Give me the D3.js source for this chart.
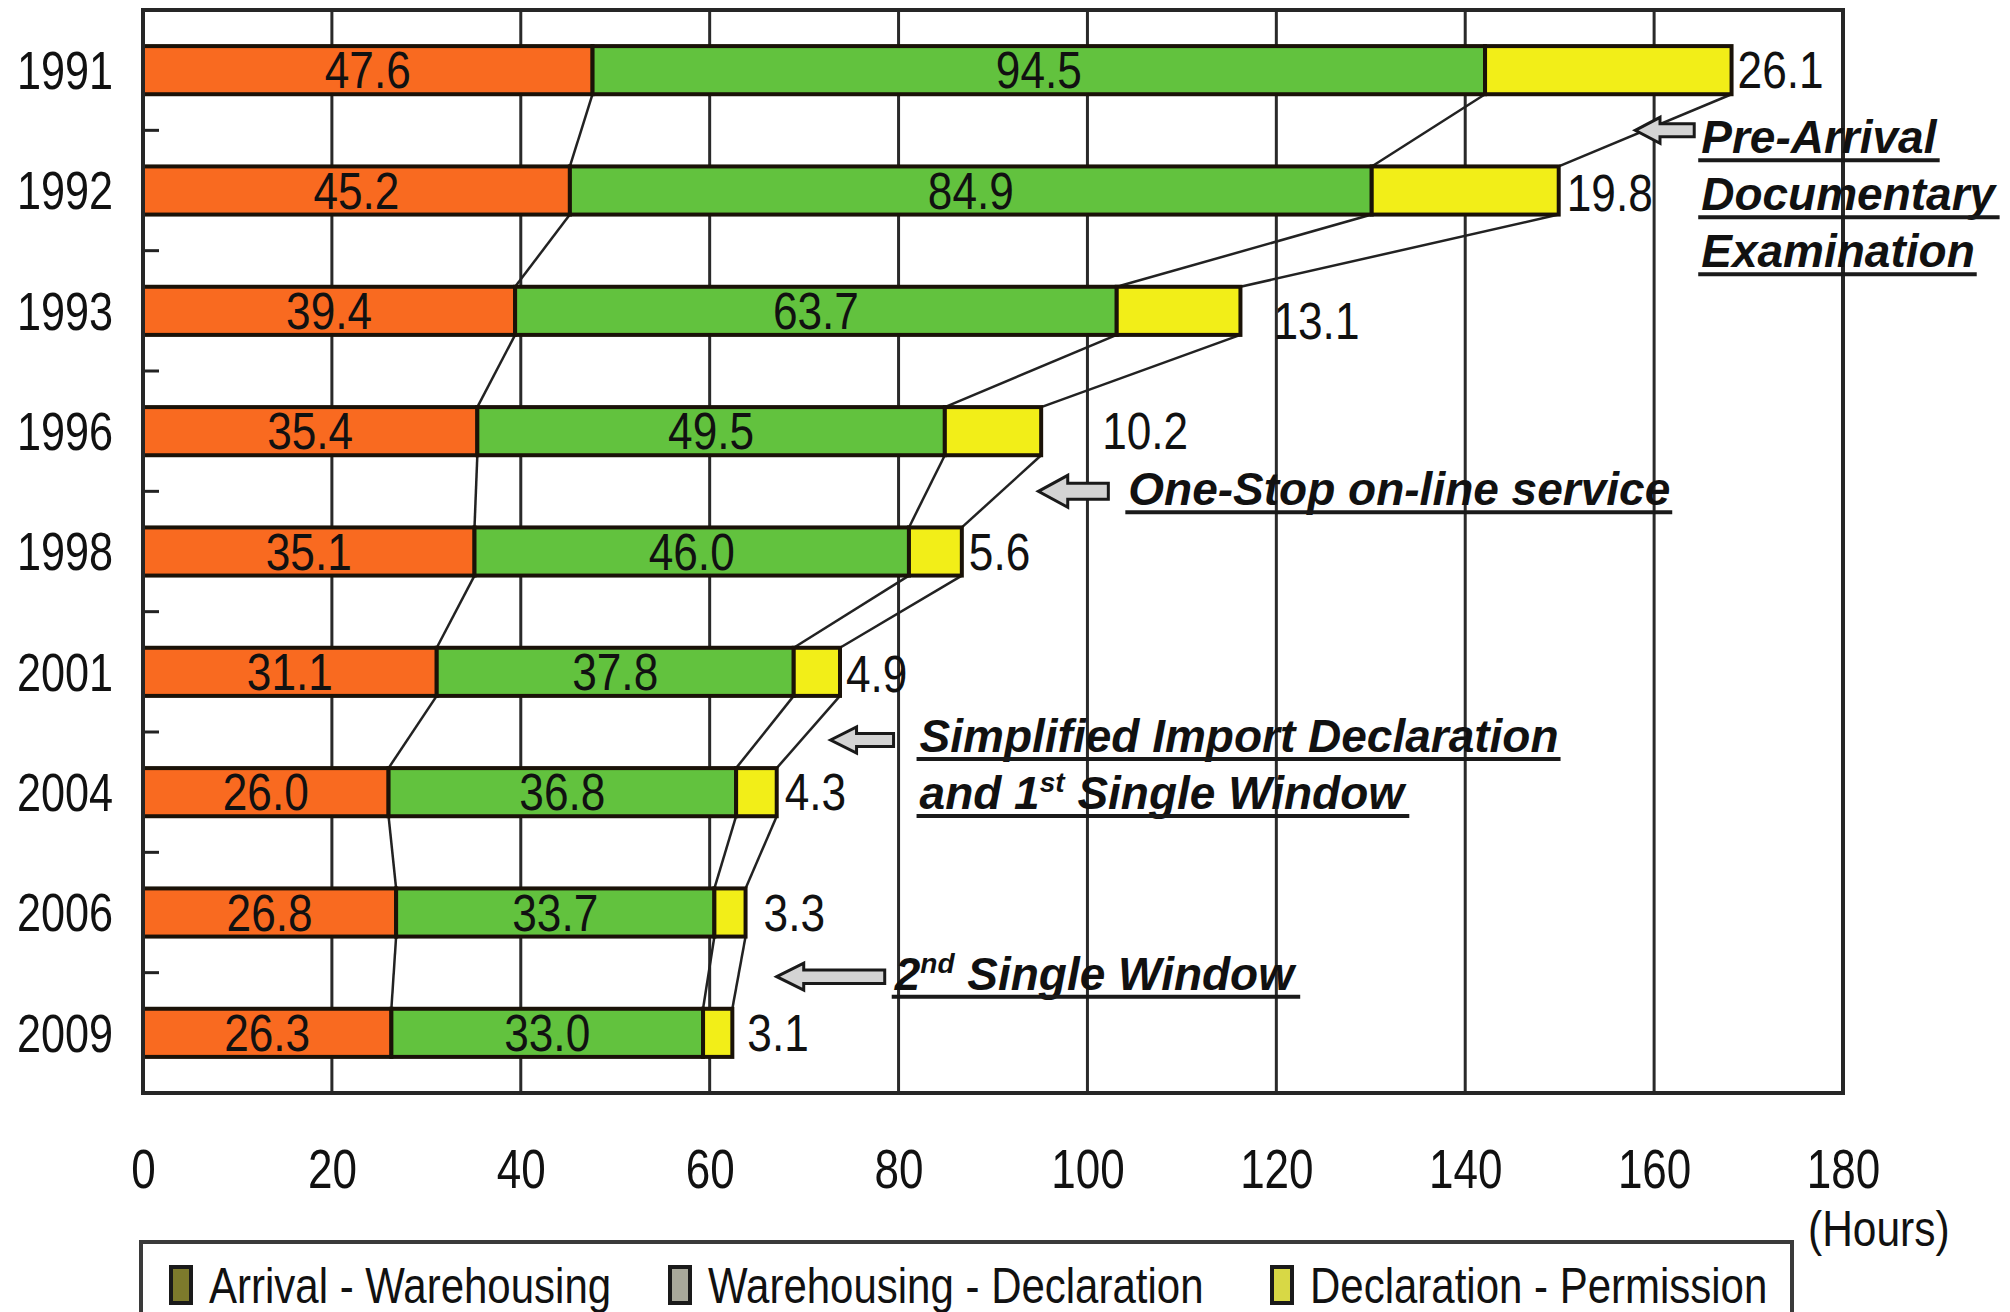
<!DOCTYPE html>
<html>
<head>
<meta charset="utf-8">
<script src="https://cdn.jsdelivr.net/npm/d3@7"></script>
<style>
  body { margin: 0; background: #fff; }
  text { font-family: "Liberation Sans", Arial, sans-serif; fill: #111; }
  .note { font-weight: bold; font-style: italic; }
</style>
</head>
<body>
<svg id="chart" width="2010" height="1312"></svg>
<script>
// data
var years = ["1991", "1992", "1993", "1996", "1998", "2001", "2004", "2006", "2009"];
var arrivalWarehousing = [47.6, 45.2, 39.4, 35.4, 35.1, 31.1, 26.0, 26.8, 26.3];
var warehousingDeclaration = [94.5, 84.9, 63.7, 49.5, 46.0, 37.8, 36.8, 33.7, 33.0];
var declarationPermission = [26.1, 19.8, 13.1, 10.2, 5.6, 4.9, 4.3, 3.3, 3.1];
var seriesNames = ["Arrival - Warehousing", "Warehousing - Declaration", "Declaration - Permission"];
var xTicks = [0, 20, 40, 60, 80, 100, 120, 140, 160, 180];

// layout
var plotL = 143, plotR = 1843, plotT = 10, plotB = 1093;
var colors = ["#f96a20", "#62c23e", "#f2ee18"];
var legendColors = ["#7d7a2c", "#a8a89a", "#d8d845"];
// nudge of the last-segment labels (px right of bar end, px down)
var endLabelDx = [6, 8, 33, 61, 7, 6, 8, 18, 15];
var endLabelDy = [0, 2, 10, 0, 0, 2, 0, 0, 0];

var keys = ["a", "b", "c"];
var table = years.map(function(yr, i) {
    return { year: yr, a: arrivalWarehousing[i], b: warehousingDeclaration[i], c: declarationPermission[i] };
});
var stacked = d3.stack().keys(keys)(table);

var svg = d3.select("#chart");
svg.append("rect").attr("width", 2010).attr("height", 1312).attr("fill", "#fff");

var x = d3.scaleLinear().domain([0, 180]).range([plotL, plotR]);
var y = d3.scaleBand().domain(years).range([plotT, plotB]).paddingInner(0.6).paddingOuter(0.3);

function stext(g, tx, ty, str, size, sx, anchor) {
    return g.append("text")
        .attr("transform", "translate(" + tx + "," + ty + ") scale(" + sx + ",1)")
        .attr("text-anchor", anchor)
        .attr("dy", "0.35em")
        .style("font-size", size + "px")
        .text(str);
}

// grid lines
svg.append("g").selectAll("line")
    .data(xTicks.slice(1, -1))
    .enter().append("line")
    .attr("x1", function(d) { return x(d); })
    .attr("x2", function(d) { return x(d); })
    .attr("y1", plotT).attr("y2", plotB)
    .attr("stroke", "#2a2a2a").attr("stroke-width", 3);

// category ticks on the left axis
var step = y.step();
svg.append("g").selectAll("line")
    .data(d3.range(1, years.length))
    .enter().append("line")
    .attr("x1", plotL).attr("x2", plotL + 16)
    .attr("y1", function(k) { return plotT + k * step; })
    .attr("y2", function(k) { return plotT + k * step; })
    .attr("stroke", "#222").attr("stroke-width", 3);

// series lines between bars
var ends = years.map(function(yr, i) {
    return [stacked[0][i][1], stacked[1][i][1], stacked[2][i][1]];
});
var conn = svg.append("g");
for (var i = 0; i < years.length - 1; i++) {
    for (var k = 0; k < 3; k++) {
        conn.append("line")
            .attr("x1", x(ends[i][k])).attr("y1", y(years[i]) + y.bandwidth())
            .attr("x2", x(ends[i + 1][k])).attr("y2", y(years[i + 1]))
            .attr("stroke", "#222").attr("stroke-width", 2.5);
    }
}

// bars
var layer = svg.append("g").selectAll("g")
    .data(stacked)
    .enter().append("g")
    .attr("fill", function(d, i) { return colors[i]; });

layer.selectAll("rect")
    .data(function(d) { return d; })
    .enter().append("rect")
    .attr("x", function(d) { return x(d[0]); })
    .attr("y", function(d) { return y(d.data.year); })
    .attr("width", function(d) { return x(d[1]) - x(d[0]); })
    .attr("height", y.bandwidth())
    .attr("stroke", "#1a1208").attr("stroke-width", 4);

// value labels
var labels = svg.append("g");
stacked.forEach(function(s, si) {
    s.forEach(function(d, i) {
        var cy = y(d.data.year) + y.bandwidth() / 2;
        var v = d[1] - d[0];
        if (si < 2) {
            stext(labels, (x(d[0]) + x(d[1])) / 2, cy, v.toFixed(1), 52, 0.85, "middle");
        } else {
            stext(labels, x(d[1]) + endLabelDx[i], cy + endLabelDy[i], v.toFixed(1), 52, 0.85, "start");
        }
    });
});

// plot frame
svg.append("rect")
    .attr("x", plotL).attr("y", plotT)
    .attr("width", plotR - plotL).attr("height", plotB - plotT)
    .attr("fill", "none").attr("stroke", "#262626").attr("stroke-width", 4);

// year labels
var yAxis = svg.append("g").attr("transform", "translate(" + plotL + ",0)")
    .call(d3.axisLeft(y).tickSize(0).tickPadding(0));
yAxis.select(".domain").remove();
yAxis.selectAll("text")
    .attr("x", null).attr("dy", "0.35em")
    .attr("fill", "#111")
    .attr("text-anchor", "end")
    .attr("transform", "translate(-30,0) scale(0.8,1)")
    .style("font-size", "54px");
yAxis.attr("font-family", null);

// hour labels
var xAxis = svg.append("g").attr("transform", "translate(0," + plotB + ")")
    .call(d3.axisBottom(x).tickValues(xTicks).tickSize(0).tickPadding(0));
xAxis.select(".domain").remove();
xAxis.selectAll("text")
    .attr("y", null).attr("dy", "0.35em")
    .attr("fill", "#111")
    .attr("transform", "translate(0,76) scale(0.8,1)")
    .style("font-size", "55px");
xAxis.attr("font-family", null);
stext(svg, 1808, 1228, "(Hours)", 50, 0.85, "start");

// annotations with block arrows
var notes = [
    { lines: [["Pre-Arrival"], ["Documentary"], ["Examination"]], tip: 158.0, after: 0, dy: 0, w: 59, h: 26, gap: 7, base: 23 },
    { lines: [["One-Stop on-line service"]], tip: 94.8, after: 3, dy: 0, w: 70, h: 32, gap: 20, base: 14 },
    { lines: [["Simplified Import Declaration"], ["and 1", "st", " Single Window"]], tip: 72.8, after: 5, dy: 8, w: 63, h: 26, gap: 26, base: 12 },
    { lines: [["2", "nd", " Single Window"]], tip: 67.1, after: 7, dy: 4, w: 108, h: 27, gap: 10, base: 13 }
];
var ng = svg.append("g");
notes.forEach(function(n) {
    var cy = (y(years[n.after]) + y(years[n.after + 1]) + y.bandwidth()) / 2 + n.dy;
    var x0 = x(n.tip), w = n.w, h = n.h, hl = Math.min(0.42 * w, h);
    var p = d3.path();
    p.moveTo(x0, cy);
    p.lineTo(x0 + hl, cy - h / 2);
    p.lineTo(x0 + hl, cy - h / 4);
    p.lineTo(x0 + w, cy - h / 4);
    p.lineTo(x0 + w, cy + h / 4);
    p.lineTo(x0 + hl, cy + h / 4);
    p.lineTo(x0 + hl, cy + h / 2);
    p.closePath();
    ng.append("path").attr("d", p.toString())
        .attr("fill", "#d4d4d4").attr("stroke", "#1a1a1a").attr("stroke-width", 3);
    var tx = x0 + w + n.gap;
    n.lines.forEach(function(parts, li) {
        var by = cy + n.base + li * 57;
        var t = ng.append("text").attr("class", "note")
            .attr("x", tx).attr("y", by)
            .style("font-size", "46px");
        if (parts.length === 1) {
            t.text(parts[0]);
        } else {
            t.append("tspan").text(parts[0]);
            t.append("tspan").attr("dy", -17).style("font-size", "28px").text(parts[1]);
            t.append("tspan").attr("dy", 17).text(parts[2]);
        }
        var bb = t.node().getBBox();
        ng.append("line")
            .attr("x1", tx - 3).attr("x2", tx + bb.width + 2)
            .attr("y1", by + 7).attr("y2", by + 7)
            .attr("stroke", "#1a1a1a").attr("stroke-width", 4);
    });
});

// legend
var lg = svg.append("g");
lg.append("rect")
    .attr("x", 141).attr("y", 1242).attr("width", 1651).attr("height", 110)
    .attr("fill", "#fff").attr("stroke", "#3a3a3a").attr("stroke-width", 4);
var legendX = [171, 670, 1272];
seriesNames.forEach(function(name, i) {
    lg.append("rect")
        .attr("x", legendX[i]).attr("y", 1267).attr("width", 20).attr("height", 36)
        .attr("fill", legendColors[i]).attr("stroke", "#1a1a1a").attr("stroke-width", 4);
    stext(lg, legendX[i] + 38, 1285, name, 50, 0.84, "start");
});
</script>
</body>
</html>
